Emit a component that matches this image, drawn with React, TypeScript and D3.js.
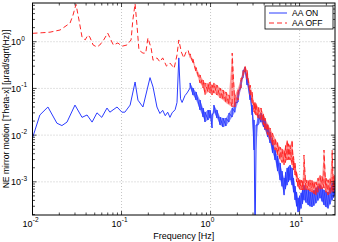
import React from 'react';
import * as d3 from 'd3';

// AA ON (blue), low-frequency part: one value per frequency
const blueFreq = [0.01, 0.0121, 0.0149, 0.0188, 0.0214, 0.0244, 0.03, 0.036, 0.041, 0.0467, 0.053, 0.06, 0.0687, 0.074, 0.089, 0.101, 0.109, 0.125, 0.142, 0.153, 0.174, 0.209, 0.226, 0.25, 0.27, 0.29, 0.31, 0.33, 0.35, 0.37, 0.4, 0.42, 0.44, 0.46, 0.479, 0.516, 0.545];
const blueValue = [0.0087, 0.027, 0.04, 0.018, 0.016, 0.019, 0.044, 0.024, 0.027, 0.019, 0.03, 0.024, 0.038, 0.031, 0.04, 0.031, 0.031, 0.044, 0.137, 0.056, 0.04, 0.17, 0.107, 0.04, 0.029, 0.034, 0.026, 0.031, 0.024, 0.03, 0.035, 0.05, 0.45, 0.06, 0.05, 0.07, 0.08];

// AA OFF (red), low-frequency part
const redFreq = [0.01, 0.0131, 0.0157, 0.0204, 0.0264, 0.0285, 0.0308, 0.0333, 0.036, 0.039, 0.042, 0.044, 0.048, 0.053, 0.057, 0.063, 0.07, 0.076, 0.081, 0.091, 0.101, 0.115, 0.128, 0.134, 0.142, 0.149, 0.157, 0.174, 0.187, 0.198, 0.215, 0.226, 0.25, 0.27, 0.29, 0.32, 0.35, 0.39, 0.42, 0.44, 0.47, 0.5, 0.53, 0.56];
const redValue = [1.51, 1.56, 1.6, 1.78, 2.5, 3.7, 6.3, 2.9, 1.26, 1.09, 1.39, 1.26, 0.85, 0.77, 0.85, 1.09, 1.53, 1.09, 0.85, 0.94, 0.8, 0.85, 1.09, 2.9, 6.5, 2.3, 0.66, 0.57, 0.57, 1.2, 0.73, 0.4, 0.45, 0.37, 0.45, 0.3, 0.35, 0.27, 0.52, 1.09, 0.6, 0.45, 0.6, 0.66];

// high-frequency part is a dense noisy band: min / max per frequency bin
const denseFreq = [
  0.589, 0.635, 0.687, 0.762, 0.824, 0.867, 0.938, 0.986, 1.04, 1.09, 1.18, 1.28, 1.38, 1.49, 1.61, 1.75, 1.88, 2.04, 2.2, 2.32, 2.44, 2.57, 2.78, 2.93, 3.08, 3.16, 3.24, 3.42,
  3.69, 3.93, 4.09, 4.37, 4.66, 4.97, 5.31, 5.66, 6.04, 6.35, 6.7, 6.95, 7.24, 7.52, 7.82, 8.24, 8.55, 8.9, 9.25, 9.62, 10.0, 10.4, 10.8, 11.2, 11.8, 12.5, 13.1, 13.8, 14.5, 15.3, 16.1, 17, 17.9, 18.8, 19.8, 20.9, 22.0, 23.2, 24.1, 25,
];
const blueLow = [
  0.102, 0.072, 0.0565, 0.0345, 0.0244, 0.0191, 0.0211, 0.0232, 0.0142, 0.031, 0.0232, 0.0165, 0.0149, 0.0157, 0.0191, 0.0244, 0.031, 0.0512, 0.102, 0.167, 0.224, 0.118, 0.0565, 0.0269, 0.0048, 0.00005, 0.0048, 0.0165,
  0.0191, 0.015, 0.0129, 0.0092, 0.00678, 0.0042, 0.00293, 0.0017, 0.00109, 0.0008, 0.00052, 0.0007, 0.00085, 0.001, 0.00109, 0.00085, 0.0006, 0.00041, 0.0003, 0.000225, 0.00024, 0.00027, 0.00034, 0.00041, 0.00036, 0.00032, 0.0003, 0.00029, 0.00031, 0.00035, 0.0004, 0.00045, 0.00038, 0.00032, 0.00029, 0.00027, 0.00033, 0.00041, 0.00046, 0.00052,
];
const blueHigh = [
  0.131, 0.102, 0.084, 0.0565, 0.038, 0.031, 0.0345, 0.0345, 0.0269, 0.044, 0.0345, 0.0244, 0.0232, 0.0232, 0.0297, 0.038, 0.0487, 0.0837, 0.151, 0.248, 0.287, 0.194, 0.0924, 0.0441, 0.0211, 0.00005, 0.0165, 0.0269,
  0.0297, 0.026, 0.0211, 0.0165, 0.0117, 0.0078, 0.0048, 0.0036, 0.00253, 0.0017, 0.00121, 0.0016, 0.00198, 0.0021, 0.00229, 0.00198, 0.0012, 0.00081, 0.0006, 0.00045, 0.0005, 0.00058, 0.0007, 0.00085, 0.00072, 0.00067, 0.00062, 0.0006, 0.00066, 0.00074, 0.0008, 0.00085, 0.00075, 0.00067, 0.00062, 0.0006, 0.00075, 0.00094, 0.001, 0.00109,
];
const redLow = [
  0.45, 0.35, 0.22, 0.131, 0.102, 0.0722, 0.0837, 0.08, 0.0722, 0.08, 0.0722, 0.0623, 0.0565, 0.0487, 0.0441, 0.04, 0.04, 0.0565, 0.102, 0.167, 0.224, 0.151, 0.0722, 0.0487, 0.0312, 0.029, 0.0269, 0.0232,
  0.0211, 0.0165, 0.0129, 0.0101, 0.00785, 0.0061, 0.0048, 0.0037, 0.00293, 0.0026, 0.00229, 0.0026, 0.00293, 0.003, 0.00293, 0.00229, 0.0018, 0.0014, 0.001, 0.00074, 0.0007, 0.00067, 0.00067, 0.00067, 0.00066, 0.00067, 0.00063, 0.0006, 0.00056, 0.00052, 0.0006, 0.00067, 0.0007, 0.00074, 0.0006, 0.00052, 0.00056, 0.0006, 0.00062, 0.00067,
];
const redHigh = [
  0.55, 0.42, 0.28, 0.194, 0.151, 0.131, 0.131, 0.137, 0.118, 0.131, 0.118, 0.102, 0.0924, 0.0837, 0.0722, 0.57, 0.0722, 0.102, 0.167, 0.248, 0.31, 0.248, 0.118, 0.0837, 0.0512, 0.05, 0.0487, 0.04,
  0.038, 0.029, 0.0232, 0.018, 0.0142, 0.011, 0.00866, 0.0069, 0.00556, 0.0051, 0.0048, 0.006, 0.00785, 0.0065, 0.006, 0.00785, 0.0035, 0.00253, 0.0017, 0.00121, 0.00115, 0.00109, 0.0011, 0.00375, 0.0011, 0.0011, 0.0011, 0.00109, 0.00102, 0.00099, 0.0012, 0.0014, 0.0013, 0.0048, 0.0012, 0.0011, 0.0012, 0.0048, 0.0013, 0.0014,
];

const seriesNames = ['AA ON', 'AA OFF'];
const blue = '#2b3cff';
const red = '#ff2626';

const W = 338;
const H = 242;
const left = 32.5, right = 335, top = 3, bottom = 215;
const font = '"Liberation Sans", Arial, sans-serif';

const buildPoints = (freq: number[], val: number[], lo: number[], hi: number[]) => {
  const pts: [number, number][] = freq.map((f, i) => [f, val[i]]);
  denseFreq.forEach((f, i) => {
    pts.push([f, lo[i]]);
    pts.push([f, hi[i]]);
  });
  return pts;
};

export default function App() {
  const x = d3.scaleLog().domain([0.01, 25]).range([left, right]);
  const y = d3.scaleLog().domain([1.95e-4, 6.74]).range([bottom, top]);

  const line = d3
    .line<[number, number]>()
    .x((d) => x(d[0]))
    .y((d) => y(Math.max(d[1], 1e-6)));

  // min/max envelope of the dense part, so the noisy band reads as filled
  const band = (lo: number[], hi: number[]) =>
    d3
      .area<number>()
      .x((f) => x(f))
      .y0((_, i) => y(Math.max(lo[i], 1e-6)))
      .y1((_, i) => y(Math.max(hi[i], 1e-6)))(denseFreq) || '';

  const bluePts = buildPoints(blueFreq, blueValue, blueLow, blueHigh);
  const redPts = buildPoints(redFreq, redValue, redLow, redHigh);

  const isMajor = (v: number) => Math.abs(Math.log10(v) - Math.round(Math.log10(v))) < 1e-6;
  const xTicks = x.ticks();
  const yTicks = y.ticks();

  return (
    <svg width={W} height={H} style={{ position: 'absolute', left: 0, top: 0, background: '#fff' }} fontFamily={font}>
      <defs>
        <clipPath id="plot">
          <rect x={left} y={top} width={right - left} height={bottom - top} />
        </clipPath>
      </defs>
      <rect x={left} y={top} width={right - left} height={bottom - top} fill="#fff" />

      {/* grid */}
      {xTicks.filter(isMajor).map((t) => (
        <line key={'gx' + t} x1={x(t)} x2={x(t)} y1={top} y2={bottom} stroke="#b8b8b8" strokeWidth={0.8} strokeDasharray="1,2" />
      ))}
      {yTicks.filter(isMajor).map((t) => (
        <line key={'gy' + t} x1={left} x2={right} y1={y(t)} y2={y(t)} stroke="#b8b8b8" strokeWidth={0.8} strokeDasharray="1,2" />
      ))}

      <g clipPath="url(#plot)">
        <path d={band(blueLow, blueHigh)} fill={blue} fillOpacity={0.55} stroke="none" />
        <path d={line(bluePts) || ''} fill="none" stroke={blue} strokeWidth={1} strokeLinejoin="round" />
        <path d={band(redLow, redHigh)} fill={red} fillOpacity={0.45} stroke="none" />
        <path d={line(redPts) || ''} fill="none" stroke={red} strokeWidth={1} strokeDasharray="5,3" strokeLinejoin="round" />
      </g>

      {/* ticks on all four sides */}
      {xTicks.map((t) => {
        const len = isMajor(t) ? 4 : 2.5;
        return (
          <g key={'tx' + t} stroke="#000" strokeWidth={0.7}>
            <line x1={x(t)} x2={x(t)} y1={bottom} y2={bottom - len} />
            <line x1={x(t)} x2={x(t)} y1={top} y2={top + len} />
          </g>
        );
      })}
      {yTicks.map((t) => {
        const len = isMajor(t) ? 4 : 2.5;
        return (
          <g key={'ty' + t} stroke="#000" strokeWidth={0.7}>
            <line x1={left} x2={left + len} y1={y(t)} y2={y(t)} />
            <line x1={right} x2={right - len} y1={y(t)} y2={y(t)} />
          </g>
        );
      })}
      <rect x={left} y={top} width={right - left} height={bottom - top} fill="none" stroke="#000" strokeWidth={1} />

      {/* tick labels */}
      {xTicks.filter(isMajor).map((t) => (
        <g key={'lx' + t} fill="#000">
          <text x={x(t)} y={227} fontSize={9} textAnchor="end">10</text>
          <text x={x(t) + 0.3} y={222} fontSize={6.5}>{Math.round(Math.log10(t))}</text>
        </g>
      ))}
      {yTicks.filter(isMajor).map((t) => (
        <g key={'ly' + t} fill="#000">
          <text x={21} y={y(t) + 3.5} fontSize={9} textAnchor="end">10</text>
          <text x={21.3} y={y(t) - 1} fontSize={6.5}>{Math.round(Math.log10(t))}</text>
        </g>
      ))}

      <text x={(left + right) / 2} y={238.5} fontSize={9} textAnchor="middle">Frequency [Hz]</text>
      <text transform={`translate(9,${(top + bottom) / 2}) rotate(-90)`} fontSize={8.6} textAnchor="middle">
        NE mirror motion [Theta-x] [μrad/sqrt(Hz)]
      </text>

      {/* legend */}
      <g>
        <rect x={265} y={6} width={68} height={23} fill="#fff" stroke="#000" strokeWidth={0.8} />
        {seriesNames.map((name, i) => (
          <g key={name}>
            <line x1={269} x2={287} y1={13 + i * 10} y2={13 + i * 10} stroke={i === 0 ? blue : red} strokeWidth={1} strokeDasharray={i === 0 ? undefined : '5,3'} />
            <text x={292} y={16.3 + i * 10} fontSize={8.6}>{name}</text>
          </g>
        ))}
      </g>
    </svg>
  );
}
